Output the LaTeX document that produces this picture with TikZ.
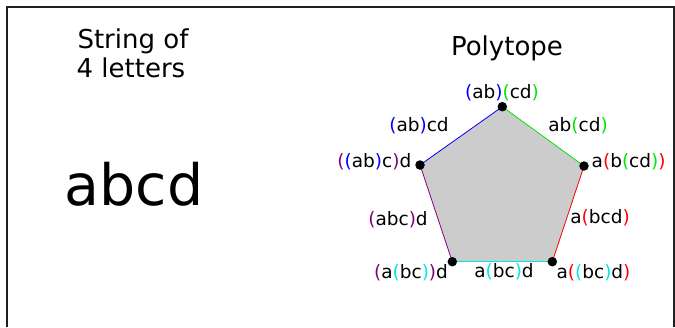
\documentclass[tikz,border=0pt]{standalone}
\usepackage{fontspec}
\setmainfont{DejaVu Sans}
\definecolor{pblue}{RGB}{0,0,255}
\definecolor{pgreen}{RGB}{0,230,0}
\definecolor{pred}{RGB}{255,0,0}
\definecolor{pcyan}{RGB}{0,230,230}
\definecolor{ppurple}{RGB}{128,0,128}
\definecolor{pfill}{RGB}{204,204,204}
\newcommand{\cp}[2]{\textcolor{#1}{(}#2\textcolor{#1}{)}}
\begin{document}
\begin{tikzpicture}[x=1pt,y=-1pt,
  lbl/.style={inner sep=0pt,anchor=base,font=\fontsize{18.5}{22}\selectfont},
  title/.style={inner sep=0pt,anchor=base,font=\fontsize{26}{30}\selectfont},
  vdot/.style={circle,fill=black,inner sep=0pt,minimum size=9.5pt},
  edge/.style={line width=0.8pt}]
\useasboundingbox (0,0) rectangle (675,327);
\draw[line width=2pt,black!88] (6.5,327) -- (6.5,6.5) -- (673.5,6.5) -- (673.5,327);
% titles
\node[title] (t1a) at (133,48) {String of};
\node[title] (t1b) at (131,77) {4 letters};
\node[title] (t2) at (507,55) {Polytope};
\node[inner sep=0pt,anchor=base,font=\fontsize{57}{60}\selectfont] (w) at (134,205) {abcd};
% vertices
\coordinate (A) at (502.3,106.7);
\coordinate (B) at (420,165);
\coordinate (C) at (584,166);
\coordinate (D) at (452.3,261.7);
\coordinate (E) at (552.3,261.7);
\fill[pfill] (A) -- (C) -- (E) -- (D) -- (B) -- cycle;
\draw[edge,pblue] (A) -- (B);
\draw[edge,pgreen] (A) -- (C);
\draw[edge,pred] (C) -- (E);
\draw[edge,pcyan] (E) -- (D);
\draw[edge,ppurple] (D) -- (B);
\node[vdot] (vA) at (A) {};
\node[vdot] (vB) at (B) {};
\node[vdot] (vC) at (C) {};
\node[vdot] (vD) at (D) {};
\node[vdot] (vE) at (E) {};
% labels
\node[lbl] (lA) at (502,98) {\cp{pblue}{ab}\cp{pgreen}{cd}};
\node[lbl] (lAB) at (419,131) {\cp{pblue}{ab}cd};
\node[lbl] (lAC) at (578,131) {ab\cp{pgreen}{cd}};
\node[lbl,anchor=base east] (lB) at (411.5,167) {\cp{ppurple}{\cp{pblue}{ab}c}d};
\node[lbl,anchor=base west] (lC) at (591.5,167) {a\cp{pred}{b\cp{pgreen}{cd}}};
\node[lbl] (lBD) at (398,225) {\cp{ppurple}{abc}d};
\node[lbl] (lCE) at (600,223) {a\cp{pred}{bcd}};
\node[lbl] (lD) at (411,278) {\cp{ppurple}{a\cp{pcyan}{bc}}d};
\node[lbl] (lDE) at (504,277) {a\cp{pcyan}{bc}d};
\node[lbl] (lE) at (593.5,278) {a\cp{pred}{\cp{pcyan}{bc}d}};
\end{tikzpicture}
\end{document}
